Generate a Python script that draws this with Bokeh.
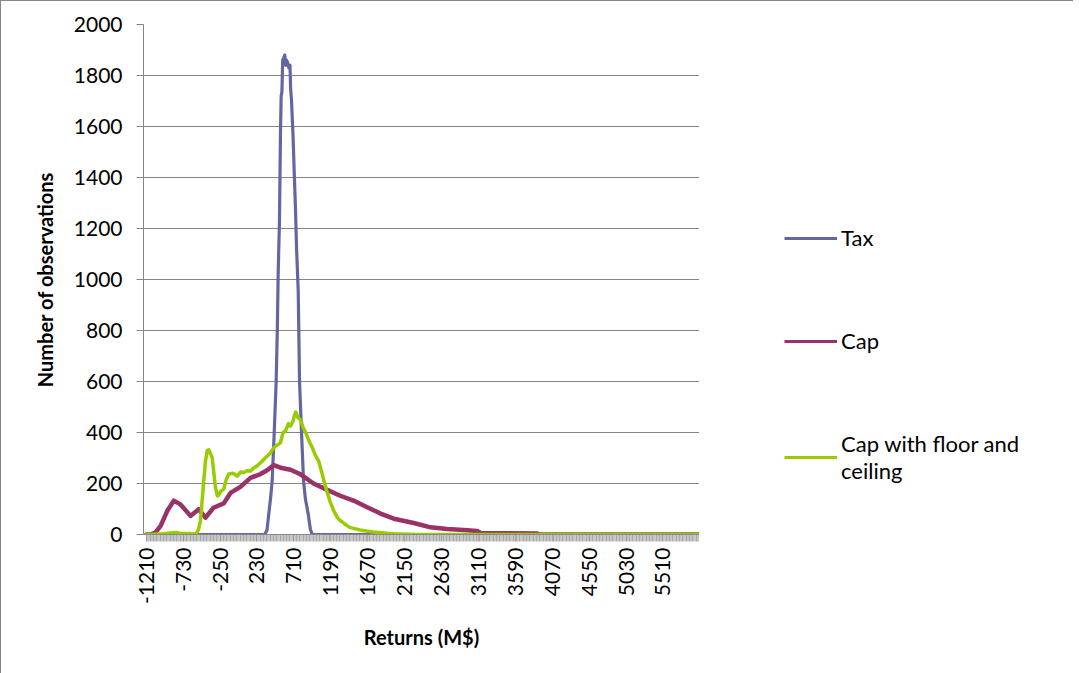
import math
from bokeh.plotting import figure
from bokeh.layouts import row
from bokeh.models import FixedTicker, Legend, LegendItem, Range1d
from bokeh.embed import file_html
from bokeh.resources import INLINE

# ---- data ----
TICK_VALUES = [-1210, -730, -250, 230, 710, 1190, 1670, 2150, 2630, 3110, 3590, 4070, 4550, 5030, 5510]
TICK_LABELS = ["-1210", "-730", "-250", "230", "710", "1190", "1670", "2150", "2630", "3110",
               "3590", "4070", "4550", "5030", "5510"]
CATEGORY_STEP = 10
CATEGORY_FIRST = -1210
CATEGORY_LAST = 5980

Y_TICKS = [0, 200, 400, 600, 800, 1000, 1200, 1400, 1600, 1800, 2000]

TAX_X = [-1210, 330, 360, 384, 410, 428, 455, 480, 495, 506, 523, 536, 545, 555, 565, 580, 592,
         605, 615, 630, 645, 660, 668, 680, 700, 715, 731, 745, 767, 784, 810, 836, 860, 897, 925,
         950, 5980]
TAX_Y = [0, 0, 15, 80, 150, 210, 400, 600, 800, 1020, 1230, 1570, 1720, 1735, 1860, 1870, 1880,
         1840, 1860, 1850, 1830, 1840, 1750, 1700, 1560, 1420, 1280, 1125, 955, 600, 400, 210, 140,
         80, 20, 0, 0]

CAP_X = [-1210, -1154, -1089, -1024, -937, -851, -764, -634, -526, -439, -335, -201, -114, 16, 146,
         276, 363, 449, 536, 666, 797, 966, 1144, 1313, 1486, 1664, 1837, 2010, 2270, 2487, 2704,
         2920, 3094, 3137, 3875, 3900, 5980]
CAP_Y = [0, 0, 8, 33, 92, 133, 118, 73, 99, 66, 105, 122, 163, 187, 222,
         237, 252, 272, 262, 254, 236, 200, 175, 152, 133, 107, 82, 62, 45, 28, 22,
         18, 14, 6, 4, 0, 0]

CFC_X = [-1210, -1154, -1000, -900, -820, -760, -650, -560, -530, -504, -470, -439, -415, -396,
         -370, -352, -330, -309, -285, -266, -240, -201, -170, -136, -80, -27, 20, 59, 100, 146,
         190, 233, 290, 341, 406, 450, 536, 570, 601, 640, 666, 700, 720, 735, 760, 797, 830, 870,
         910, 950, 990, 1030, 1079, 1110, 1144, 1180, 1230, 1280, 1313, 1380, 1436, 1566, 1740,
         2000, 2300, 5980]
CFC_Y = [0, 0, 3, 6, 8, 4, 4, 2, 20, 53, 180, 288, 330, 332,
         315, 301, 240, 184, 151, 155, 170, 178, 215, 237, 240, 229, 245, 243, 250, 249,
         262, 269, 285, 301, 320, 341, 360, 400, 406, 435, 425, 445, 470, 480, 460, 450, 420, 395,
         365, 341, 310, 290, 237, 200, 165, 130, 92, 65, 55, 40, 28, 18, 10,
         3, 0, 0]

SERIES_NAMES = ["Tax", "Cap", "Cap with floor and\nceiling"]
COLORS = ["#65659F", "#993366", "#99CC00"]
WIDTHS = [3.2, 4.5, 3.5]

FONT = "Lato"
GRID = "#868686"

LEFT, TOP, FW, FH = 142, 23, 556, 510
H = 672

p = figure(width=LEFT + FW, height=H, output_backend="svg", toolbar_location=None,
           min_border_left=LEFT, min_border_right=0, min_border_top=TOP,
           min_border_bottom=H - TOP - FH,
           x_range=Range1d(-1245, 5985), y_range=Range1d(0, 2000))
p.outline_line_color = None
p.background_fill_color = "white"
p.border_fill_color = "white"

for xs, ys, c, w in zip([TAX_X, CAP_X, CFC_X], [TAX_Y, CAP_Y, CFC_Y], COLORS, WIDTHS):
    p.line(xs, ys, line_color=c, line_width=w, line_join="round", line_cap="round")

# x axis
minor = list(range(CATEGORY_FIRST, CATEGORY_LAST + 1, CATEGORY_STEP))
p.xaxis.ticker = FixedTicker(ticks=TICK_VALUES, minor_ticks=minor)
p.xaxis.major_label_overrides = {v: s for v, s in zip(TICK_VALUES, TICK_LABELS)}
p.xaxis.major_label_orientation = math.pi / 2
p.xaxis.major_tick_out = 7
p.xaxis.major_tick_in = 0
p.xaxis.minor_tick_out = 7
p.xaxis.minor_tick_in = 0
p.xaxis.minor_tick_line_color = "#8c8c8c"
p.xaxis.minor_tick_line_width = 0.5
p.xaxis.major_tick_line_color = "#8c8c8c"
p.xaxis.major_tick_line_width = 0.5
p.xaxis.axis_line_color = GRID
p.xaxis.major_label_standoff = 6
p.xaxis.axis_label = "Returns (M$)"
p.xaxis.axis_label_standoff = 18
p.xgrid.visible = False

# y axis
p.yaxis.ticker = FixedTicker(ticks=Y_TICKS)
p.yaxis.major_tick_out = 7
p.yaxis.major_tick_in = 0
p.yaxis.minor_tick_line_color = None
p.yaxis.major_tick_line_color = GRID
p.yaxis.axis_line_color = GRID
p.yaxis.major_label_standoff = 14
p.yaxis.axis_label = "Number of observations"
p.yaxis.axis_label_standoff = 14
p.ygrid.grid_line_color = GRID
p.ygrid.grid_line_width = 1

for ax in (p.xaxis, p.yaxis):
    ax.major_label_text_font = FONT
    ax.major_label_text_font_size = "21px"
    ax.major_label_text_color = "black"
    ax.axis_label_text_font = FONT
    ax.axis_label_text_font_size = "20px"
    ax.axis_label_text_font_style = "bold"
    ax.axis_label_text_color = "black"

# legend panel: a separate figure to the right of the plot area.
# Its ranges lie below all data (values are >= 0), so only the legend shows.
q = figure(width=374, height=H, output_backend="svg", toolbar_location=None,
           min_border=0, x_axis_type=None, y_axis_type=None,
           x_range=Range1d(-1245, 5985), y_range=Range1d(-20, -10))
q.outline_line_color = None
q.xgrid.visible = False
q.ygrid.visible = False
q.background_fill_color = "white"
q.border_fill_color = "white"
leg_renderers = [q.line(xs, ys, line_color=c, line_width=3)
                 for xs, ys, c in zip([TAX_X, CAP_X, CFC_X], [TAX_Y, CAP_Y, CFC_Y], COLORS)]

legend = Legend(items=[LegendItem(label=n, renderers=[r]) for n, r in zip(SERIES_NAMES, leg_renderers)],
                location=(85, 50), orientation="vertical",
                glyph_width=53, glyph_height=20, label_height=20, label_standoff=4,
                spacing=76, padding=0, margin=0, border_line_color=None,
                background_fill_alpha=0, label_text_font=FONT,
                label_text_font_size="22px", label_text_color="black")
q.add_layout(legend, "center")

page = row(p, q, styles={"border-top": "1px solid #868686", "border-left": "1px solid #868686",
                         "background": "white"})

open("out.html", "w").write(file_html(page, INLINE))
